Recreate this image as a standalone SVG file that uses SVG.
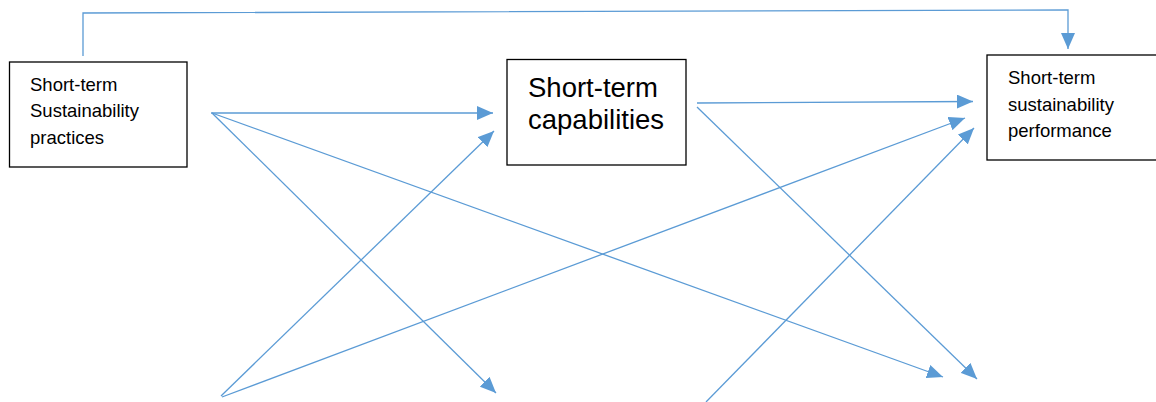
<svg xmlns="http://www.w3.org/2000/svg" width="1156" height="402" viewBox="0 0 1156 402">
<style>
.box{fill:#fff;stroke:#000;stroke-width:1.3}
.lbl{font-family:"Liberation Sans",Arial,sans-serif;font-size:18.5px;fill:#000}
.big{font-size:27.5px}
.con{fill:none;stroke:#5B9BD5;stroke-width:1.3}
</style>
<defs>
<marker id="ah" markerUnits="userSpaceOnUse" markerWidth="16" markerHeight="14" refX="16" refY="7" orient="auto" viewBox="0 0 16 14">
<path d="M0,0 L16,7 L0,14 z" fill="#5B9BD5"/>
</marker>
</defs>
<rect width="1156" height="402" fill="#fff"/>
<g id="connectors">
<polyline class="con" points="83,56 83,13 1068,10 1068,49" marker-end="url(#ah)"/>
<line class="con" x1="211" y1="113" x2="493" y2="113" marker-end="url(#ah)"/>
<line class="con" x1="212" y1="113" x2="496" y2="393" marker-end="url(#ah)"/>
<line class="con" x1="212" y1="113" x2="943" y2="377" marker-end="url(#ah)"/>
<line class="con" x1="221" y1="396" x2="494" y2="131" marker-end="url(#ah)"/>
<line class="con" x1="222" y1="397" x2="965" y2="118" marker-end="url(#ah)"/>
<line class="con" x1="697" y1="103" x2="973" y2="101.5" marker-end="url(#ah)"/>
<line class="con" x1="697" y1="107" x2="977" y2="379" marker-end="url(#ah)"/>
<line class="con" x1="706" y1="402" x2="974" y2="128" marker-end="url(#ah)"/>
</g>
<g id="node-practices">
<rect class="box" x="9.5" y="62" width="177.5" height="105"/>
<text class="lbl" x="30" y="91">Short-term</text>
<text class="lbl" x="30" y="117">Sustainability</text>
<text class="lbl" x="30" y="143.5">practices</text>
</g>
<g id="node-capabilities">
<rect class="box" x="507" y="59.5" width="179" height="105.5"/>
<text class="lbl big" x="528" y="97">Short-term</text>
<text class="lbl big" x="528" y="129">capabilities</text>
</g>
<g id="node-performance">
<rect class="box" x="987" y="55" width="175" height="105"/>
<text class="lbl" x="1008" y="84">Short-term</text>
<text class="lbl" x="1008" y="110.5">sustainability</text>
<text class="lbl" x="1008" y="137">performance</text>
</g>
</svg>
